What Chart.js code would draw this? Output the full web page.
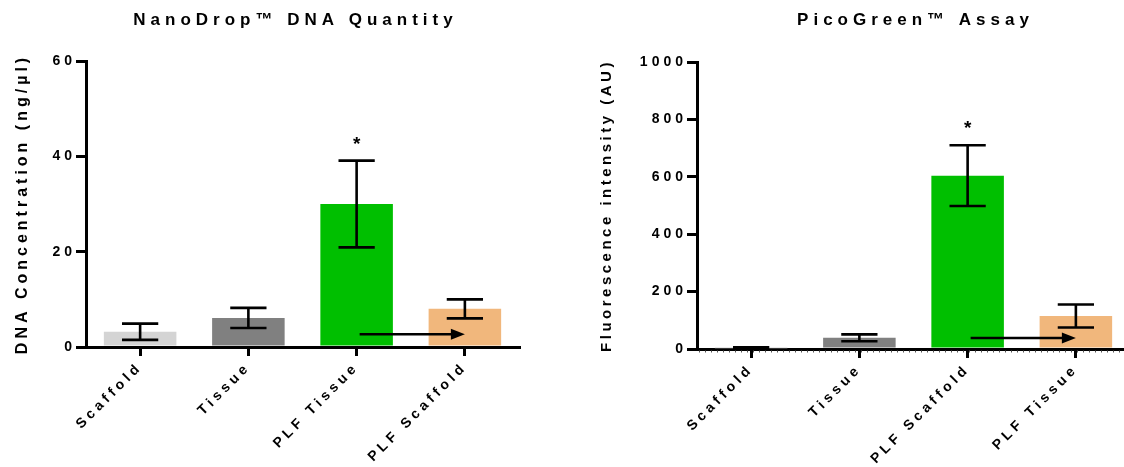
<!DOCTYPE html>
<html>
<head>
<meta charset="utf-8">
<title>DNA quantification</title>
<script src="https://cdn.jsdelivr.net/npm/chart.js@4.4.1/dist/chart.umd.min.js"></script>
<style>
  html, body { margin: 0; padding: 0; background: #fff; overflow: hidden; width: 1124px; height: 467px; }
  canvas { position: absolute; top: 0; }
  #nano { left: 0; width: 591px; height: 467px; }
  #pico { left: 560px; width: 711px; height: 467px; }
</style>
</head>
<body>
<canvas id="nano" width="591" height="467"></canvas>
<canvas id="pico" width="711" height="467"></canvas>
<script>
// ---- NanoDrop DNA quantity (ng/µl), mean ± SD ----
const nanoCategories = ['Scaffold', 'Tissue', 'PLF Tissue', 'PLF Scaffold'];
const nanoMeans = [3.2, 6.1, 30.0, 8.0];
const nanoErrors = [1.7, 2.1, 9.1, 2.0];
const nanoTicks = [0, 20, 40, 60];
const nanoSignificant = ['PLF Tissue'];
const nanoArrow = { from: 'PLF Tissue', to: 'PLF Scaffold', value: 2.7 };

// ---- PicoGreen assay fluorescence (AU), mean ± SD ----
const picoCategories = ['Scaffold', 'Tissue', 'PLF Scaffold', 'PLF Tissue'];
const picoMeans = [3, 39, 604, 115];
const picoErrors = [3, 12, 106, 40];
const picoTicks = [0, 200, 400, 600, 800, 1000];
const picoSignificant = ['PLF Scaffold'];
const picoArrow = { from: 'PLF Scaffold', to: 'PLF Tissue', value: 38 };

// Group colours, in category order
const groupColors = ['#D4D4D4', '#808080', '#00BF00', '#F1B77C'];

const FONT = "'Liberation Sans', Arial, Helvetica, sans-serif";

// Wide, Prism-style tracking: each font size gets its own letter spacing.
const TRACKING = { 14: 4, 15: 3.5, 16: 4, 17: 5 };
function trackedContext(canvas) {
  const ctx = canvas.getContext('2d');
  const desc = Object.getOwnPropertyDescriptor(CanvasRenderingContext2D.prototype, 'font');
  Object.defineProperty(ctx, 'font', {
    configurable: true,
    get() { return desc.get.call(this); },
    set(v) {
      desc.set.call(this, v);
      const m = /(\d+(?:\.\d+)?)px/.exec(v);
      const size = m ? Math.round(parseFloat(m[1])) : 0;
      this.letterSpacing = (TRACKING[size] || 0) + 'px';
    }
  });
  return ctx;
}

// Error bars, significance asterisk and the transfer arrow
const prismMarks = {
  id: 'prismMarks',
  afterDatasetsDraw(chart, args, opts) {
    const { ctx } = chart;
    const x = chart.scales.x, y = chart.scales.y;
    const bars = chart.getDatasetMeta(0).data;
    const cats = chart.data.labels;
    ctx.save();
    ctx.strokeStyle = '#000';
    ctx.fillStyle = '#000';
    ctx.lineCap = 'butt';

    opts.means.forEach((m, i) => {
      const e = opts.errors[i];
      const cx = x.getPixelForValue(i);
      const half = bars[i].width / 4;
      const yTop = y.getPixelForValue(m + e);
      const yBot = y.getPixelForValue(Math.max(m - e, 0));
      ctx.lineWidth = 2.6;
      ctx.beginPath();
      ctx.moveTo(cx, yTop); ctx.lineTo(cx, yBot);
      ctx.moveTo(cx - half, yTop); ctx.lineTo(cx + half, yTop);
      ctx.moveTo(cx - half, yBot); ctx.lineTo(cx + half, yBot);
      ctx.stroke();

      if (opts.significant.includes(cats[i])) {
        ctx.font = 'bold 19px ' + FONT;
        ctx.textAlign = 'center';
        ctx.textBaseline = 'middle';
        ctx.fillText('*', cx, yTop - 16);
      }
    });

    const a = opts.arrow;
    const ay = y.getPixelForValue(a.value);
    const x1 = x.getPixelForValue(cats.indexOf(a.from)) + 3;
    const x2 = x.getPixelForValue(cats.indexOf(a.to));
    ctx.lineWidth = 2.5;
    ctx.beginPath();
    ctx.moveTo(x1, ay); ctx.lineTo(x2 - 10, ay);
    ctx.stroke();
    ctx.beginPath();
    ctx.moveTo(x2, ay);
    ctx.lineTo(x2 - 14, ay - 5.5);
    ctx.lineTo(x2 - 14, ay + 5.5);
    ctx.closePath();
    ctx.fill();
    ctx.restore();
  },
  afterDraw(chart, args, opts) {
    if (!opts.baselineDashes) return;
    const { ctx, chartArea } = chart;
    const y0 = chart.scales.y.getPixelForValue(0) + 2.5;
    ctx.save();
    ctx.strokeStyle = '#555';
    ctx.lineWidth = 2;
    ctx.setLineDash([1, 5]);
    ctx.beginPath();
    ctx.moveTo(chartArea.left + 2, y0);
    ctx.lineTo(chartArea.right, y0);
    ctx.stroke();
    ctx.restore();
  }
};

function makeChart(id, spec) {
  const canvas = document.getElementById(id);
  const ctx = trackedContext(canvas);
  return new Chart(ctx, {
    type: 'bar',
    data: {
      labels: spec.categories,
      datasets: [{
        data: spec.means,
        backgroundColor: groupColors,
        borderWidth: 0,
        barPercentage: 0.67,
        categoryPercentage: 1.0
      }]
    },
    options: {
      responsive: false,
      animation: false,
      devicePixelRatio: 1,
      layout: { padding: 0 },
      plugins: {
        legend: { display: false },
        tooltip: { enabled: false },
        title: {
          display: true,
          text: spec.title,
          color: '#000',
          font: { family: FONT, size: 17, weight: 'bold' },
          padding: { top: 10, bottom: spec.titleGap }
        },
        prismMarks: {
          means: spec.means,
          errors: spec.errors,
          significant: spec.significant,
          arrow: spec.arrow,
          baselineDashes: spec.baselineDashes
        }
      },
      scales: {
        x: {
          type: 'category',
          offset: true,
          grid: {
            display: true, drawOnChartArea: false, offset: false,
            tickLength: 9, tickWidth: 3, tickColor: '#000', color: '#000', lineWidth: 3
          },
          border: { display: true, color: '#000', width: 3 },
          ticks: {
            color: '#000', minRotation: 45, maxRotation: 45, padding: 3,
            font: { family: FONT, size: 14, weight: 'bold' }
          },
          afterFit(s) { s.height = 467 - spec.plotBottom; }
        },
        y: {
          min: spec.ticks[0],
          max: spec.ticks[spec.ticks.length - 1],
          grid: {
            display: true, drawOnChartArea: false,
            tickLength: 10, tickWidth: 3, tickColor: '#000', color: '#000', lineWidth: 3
          },
          border: { display: true, color: '#000', width: 3 },
          ticks: {
            color: '#000', padding: 0,
            font: { family: FONT, size: 14, weight: 'bold' },
            callback: v => String(v)
          },
          afterBuildTicks(s) { s.ticks = spec.ticks.map(v => ({ value: v })); },
          title: {
            display: true,
            text: spec.yTitle,
            color: '#000',
            font: { family: FONT, size: spec.yTitleSize, weight: 'bold' },
            padding: { top: spec.yTitleInset, bottom: 0 }
          },
          afterFit(s) { s.width = spec.axisLeft; }
        },
        spacer: {
          position: 'right',
          display: true,
          grid: { display: false },
          border: { display: false },
          ticks: { display: false },
          afterFit(s) { s.width = spec.rightSpace; }
        }
      }
    },
    plugins: [prismMarks]
  });
}

makeChart('nano', {
  title: 'NanoDrop™ DNA Quantity',
  yTitle: 'DNA Concentration (ng/µl)',
  categories: nanoCategories,
  means: nanoMeans,
  errors: nanoErrors,
  ticks: nanoTicks,
  significant: nanoSignificant,
  arrow: nanoArrow,
  baselineDashes: false,
  titleGap: 30.6,
  plotBottom: 347,
  axisLeft: 86,
  rightSpace: 72,
  yTitleSize: 16,
  yTitleInset: 13.4
});

makeChart('pico', {
  title: 'PicoGreen™ Assay',
  yTitle: 'Fluorescence intensity (AU)',
  categories: picoCategories,
  means: picoMeans,
  errors: picoErrors,
  ticks: picoTicks,
  significant: picoSignificant,
  arrow: picoArrow,
  baselineDashes: true,
  titleGap: 31.6,
  plotBottom: 349,
  axisLeft: 137,
  rightSpace: 141,
  yTitleSize: 15,
  yTitleInset: 38
});
</script>
</body>
</html>
